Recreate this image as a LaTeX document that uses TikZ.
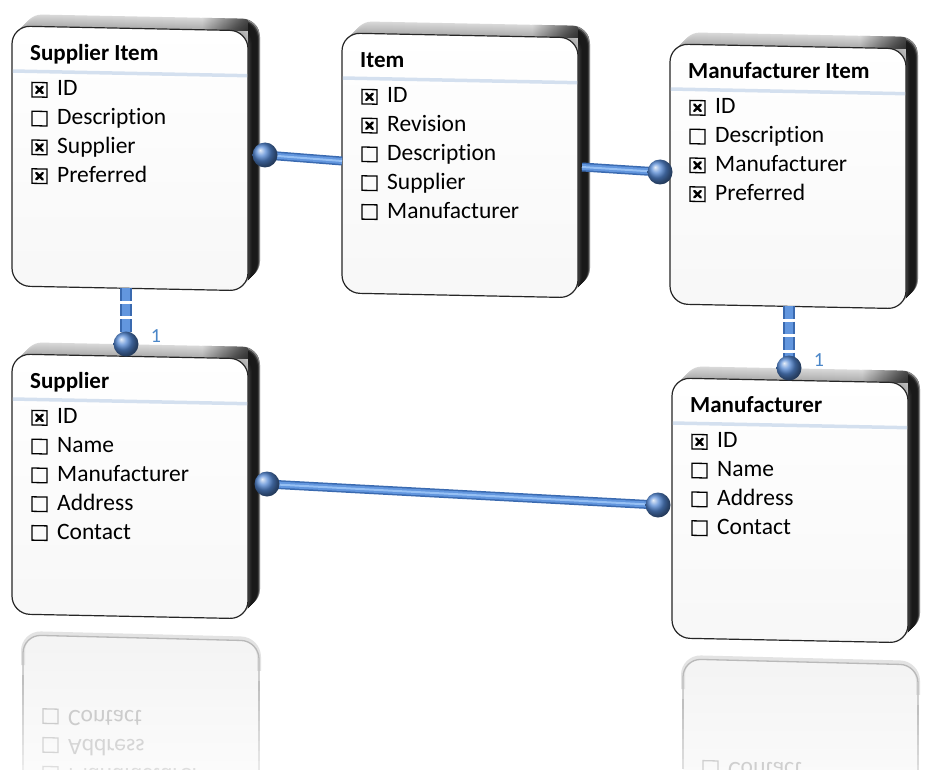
\documentclass[tikz,border=0pt]{standalone}
\usepackage{fontspec}
\setmainfont{Carlito}[Ligatures=NoCommon]
\usepackage{graphicx}
\definecolor{conblue}{RGB}{98,150,222}
\definecolor{conlight}{RGB}{150,192,244}
\definecolor{condark}{RGB}{58,106,176}
\definecolor{ballblue}{RGB}{84,136,212}
\definecolor{sepblue}{RGB}{212,224,239}
\definecolor{lblblue}{RGB}{74,134,200}
\tikzset{
  rowtext/.style={anchor=base west, inner sep=0pt, font=\fontsize{23.5}{27}\selectfont},
  titletext/.style={anchor=base west, inner sep=0pt, font=\fontsize{23}{27}\selectfont\bfseries},
  chkbox/.style={draw=black, line width=1.3pt},
  chkmark/.style={draw=black, line width=2.4pt, line cap=round},
  barout/.style={draw=condark, line width=9pt},
  barin/.style={draw=conblue, line width=6pt},
  barhi/.style={draw=conlight, line width=2pt},
  vout/.style={draw=condark, line width=12pt, dash pattern=on 12.5pt off 3pt},
  vin/.style={draw=conblue, line width=8pt, dash pattern=on 12.5pt off 3pt},
  ballstyle/.style={ball color=ballblue},
  lbl/.style={text=lblblue, inner sep=0pt, font=\fontsize{20}{24}\selectfont},
  reflbox/.style={top color=gray!9, bottom color=white, rounded corners=18pt},
  refledge/.style={line width=1.3pt, rounded corners=18pt}
}
\newcommand\erbox[5]{%
\begin{scope}[shift={(#2,#3)}, yslant=-0.02]
  \foreach \k/\g in {12/30,11/33,10/36,9/39,8/42,7/45,6/48,5/51,4/54,3/57,2/60,1/62}
    {\fill[gray!\g, rounded corners=18pt] (\k,-\k) rectangle (236+\k,260-\k);}
  \begin{scope}
    \clip (190,-20) rectangle (262,0);
    \foreach \k/\g in {12/30,11/33,10/36,9/39,8/42,7/45,6/48,5/51,4/54,3/57,2/60,1/62}
      {\begin{scope}
        \clip[rounded corners=18pt] (\k,-\k) rectangle (236+\k,260-\k);
        \shade[left color=gray!\g, right color=black!88] (190,-20) rectangle (236+\k,0);
       \end{scope}}
  \end{scope}
  \begin{scope}
    \clip (236,-20) rectangle (262,280);
    \foreach \k/\g in {12/45,11/75,10/88,9/90,8/90,7/90,6/90,5/90,4/88,3/85,2/80,1/75}
      {\fill[black!\g, rounded corners=18pt] (\k,-\k) rectangle (236+\k,260-\k);}
  \end{scope}
  \shade[top color=white, bottom color=gray!6, rounded corners=18pt] (0,0) rectangle (236,260);
  \draw[black!85, line width=1.2pt, rounded corners=18pt] (0,0) rectangle (236,260);
  \draw[sepblue, line width=3.5pt] (0.8,45) -- (235.2,45);
  \coordinate (#1) at (118,130);
  \node[titletext, name=#1-title] at (18,34) {#4};
  \foreach \c/\t [count=\i from 0] in {#5}{
    \pgfmathsetmacro\yy{69+28.8*\i}
    \draw[chkbox] (20,\yy-13) rectangle (35,\yy+1.5);
    \ifnum\c=1 \draw[chkmark] (24.3,\yy-9) -- (30.7,\yy-2.5) (24.3,\yy-2.5) -- (30.7,\yy-9);\fi
    \node[rowtext, name=#1-r\i] at (45,\yy) {\t};
  }
\end{scope}}
\begin{document}
\begin{tikzpicture}[x=1pt, y=-1pt]
\useasboundingbox (0,0) rectangle (936,770);
\clip (0,0) rectangle (936,770);
\fill[white] (0,0) rectangle (936,770);

% reflections
\begin{scope}[shift={(23,635)}, yslant=-0.025]
  \shade[reflbox] (0,0) rectangle (236,200);
  \draw[refledge, gray!22, line width=4pt] (0,30) -- (0,-2) -- (236,-2) -- (236,30);
  \draw[refledge, gray!55] (0,40) -- (0,0) -- (236,0) -- (236,40);
  \foreach \i/\g in {0/50,1/46,2/42,3/38,4/34,5/30,6/26,7/22,8/18,9/14,10/10,11/8,12/6,13/5}
    {\draw[gray!\g, line width=1.3pt] (0,40+10*\i) -- (0,50+10*\i) (236,40+10*\i) -- (236,50+10*\i);}
  \foreach \t/\yy/\g [count=\j] in {Contact/74.8/40, Address/103.6/33, Manufacturer/132.4/26}{
    \draw[gray!\g, line width=1.3pt] (20,\yy-1.5) rectangle (35,\yy+13);
    \node[rowtext, text=gray!\g, name=rs\j] at (45,\yy) {\scalebox{1}[-1]{\t}};
  }
\end{scope}
\begin{scope}[shift={(683,659)}, yslant=-0.025]
  \shade[reflbox] (0,0) rectangle (235,200);
  \draw[refledge, gray!22, line width=4pt] (0,30) -- (0,-2) -- (235,-2) -- (235,30);
  \draw[refledge, gray!55] (0,40) -- (0,0) -- (235,0) -- (235,40);
  \foreach \i/\g in {0/50,1/46,2/42,3/38,4/34,5/30,6/26}
    {\draw[gray!\g, line width=1.3pt] (0,40+10*\i) -- (0,50+10*\i) (235,40+10*\i) -- (235,50+10*\i);}
  \draw[gray!38, line width=1.3pt] (20,101.1) rectangle (35,115.6);
  \node[rowtext, text=gray!38, name=rm1] at (45,102.6) {\scalebox{1}[-1]{Contact}};
\end{scope}

% entity boxes
\erbox{si}{12}{26}{Supplier Item}{1/ID,0/Description,1/Supplier,1/Preferred}
\erbox{it}{342}{33}{Item}{1/ID,1/Revision,0/Description,0/Supplier,0/Manufacturer}
\erbox{mi}{670}{44}{Manufacturer Item}{1/ID,0/Description,1/Manufacturer,1/Preferred}
\erbox{su}{12}{354}{Supplier}{1/ID,0/Name,0/Manufacturer,0/Address,0/Contact}
\erbox{mf}{672}{378}{Manufacturer}{1/ID,0/Name,0/Address,0/Contact}

% connector end points
\coordinate (siR) at (265,155);
\coordinate (itL) at (342,161);
\coordinate (itR) at (582,167);
\coordinate (miL) at (660,172);
\coordinate (siB) at (126,288);
\coordinate (suT) at (126,344);
\coordinate (miB) at (789,306);
\coordinate (mfT) at (789,368);
\coordinate (suR) at (267,484);
\coordinate (mfL) at (658,505);

\foreach \a/\b in {siR/itL, itR/miL, suR/mfL}{
  \draw[barout] (\a) -- (\b);
  \draw[barin] (\a) -- (\b);
  \draw[barhi] (\a) -- (\b);
}
\foreach \a/\b in {siB/suT, miB/mfT}{
  \draw[vout] (\a) -- (\b);
  \draw[vin] (\a) -- (\b);
}
\foreach \p in {siR, miL, suT, mfT, suR, mfL}
  {\shade[ballstyle] (\p) circle (12.5pt);}

\node[lbl, name=one1] at (156,336) {1};
\node[lbl, name=one2] at (819,360) {1};
\end{tikzpicture}
\end{document}
